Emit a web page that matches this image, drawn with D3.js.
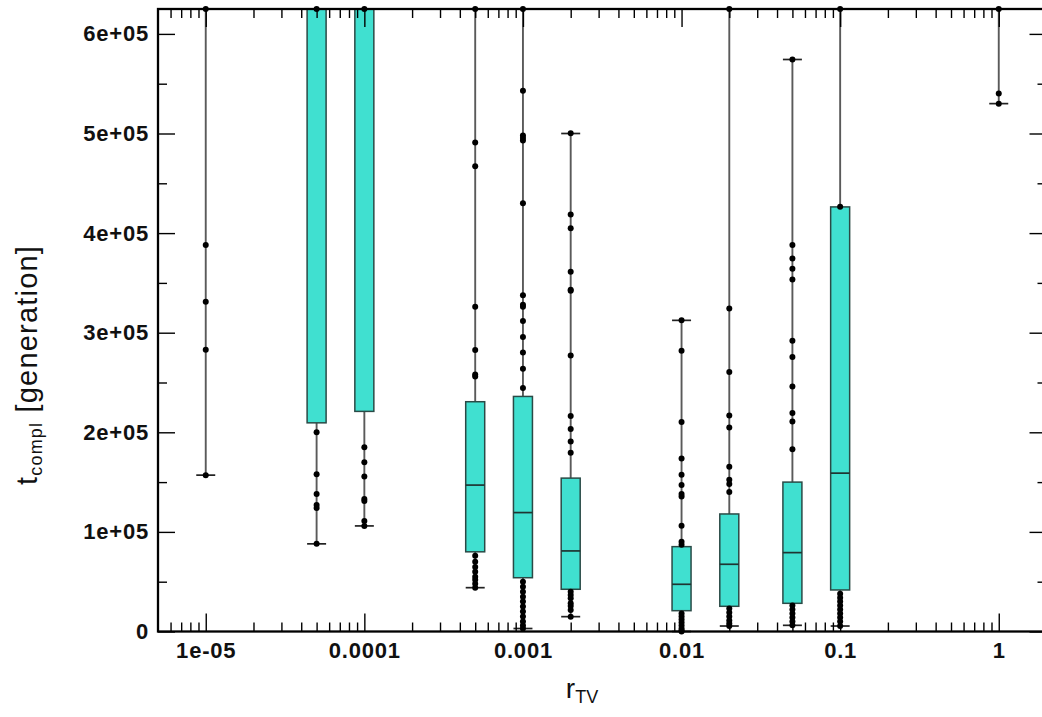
<!DOCTYPE html>
<html>
<meta charset="utf-8">
<style>
  body { margin: 0; background: #fff; }
  text { font-family: "Liberation Sans", Arial, sans-serif; }
  .tick text { font-size: 22px; font-weight: bold; fill: #111; letter-spacing: 0.8px; }
  .tick line { stroke: #000; stroke-width: 1.4px; }
</style>
<body>
<div id="viz"></div>
<script src="https://d3js.org/d3.v7.min.js"></script>
<script>
// r_TV values on the x axis
var rtv     = [1e-5, 5e-5, 1e-4, 5e-4, 1e-3, 2e-3, 1e-2, 2e-2, 5e-2, 1e-1, 1];
var q1      = [625000, 209500, 221000, 80000, 54000, 42400, 20900, 25300, 28300, 41700, 625000];
var median  = [625000, 625000, 625000, 147000, 119400, 80900, 47400, 67500, 79200, 159000, 625000];
var q3      = [625000, 625000, 625000, 230700, 236000, 154000, 85200, 118000, 150000, 426300, 625000];
var whiskLo = [157000, 88000, 106000, 44000, 3000, 14900, 0, 5500, 6200, 5500, 530000];
var whiskHi = [625000, 625000, 625000, 625000, 625000, 500000, 312400, 625000, 574300, 625000, 625000];
// single points drawn along the whiskers
var points = [
  [625000, 388000, 331000, 283000, 157000],
  [625000, 200000, 158000, 138000, 127000, 124000, 88000],
  [625000, 185000, 170000, 155600, 133000, 131000, 111000, 106000],
  [625000, 491000, 467000, 326000, 282600, 258000, 256000, 76000, 70000, 64800, 60000, 55000, 52000, 48000, 44000],
  [625000, 543000, 498000, 495600, 493000, 430000, 337500, 328000, 326000, 311800, 295700, 280200, 263800, 244400,
   50000, 45000, 40000, 35000, 30000, 25000, 20000, 15000, 10000, 6000, 3000],
  [500300, 418600, 404800, 361300, 343200, 342000, 277200, 216300, 203200, 190800, 179400,
   40000, 36700, 33400, 28300, 25600, 21600, 14900],
  [312400, 281900, 210300, 173700, 157300, 147200, 138000, 135500, 106300, 90200, 87000,
   18000, 15000, 12000, 9000, 6000, 3000, 1000, 0],
  [625000, 324400, 260500, 216900, 204800, 165300, 152300, 148000, 140000,
   23000, 19000, 15000, 11000, 8000, 5500],
  [574300, 388000, 374400, 364300, 353300, 292000, 275600, 246000, 219300, 210900, 183100,
   26000, 22000, 18000, 14000, 10000, 6200],
  [625000, 426500, 38000, 34000, 30000, 26000, 22000, 18000, 14000, 10000, 5500],
  [625000, 540200, 529800]
];
var xMajor = [1e-5, 1e-4, 1e-3, 1e-2, 1e-1, 1];
var xMajorLabels = ["1e-05", "0.0001", "0.001", "0.01", "0.1", "1"];
var yMajor = [0, 100000, 200000, 300000, 400000, 500000, 600000];
var yMajorLabels = ["0", "1e+05", "2e+05", "3e+05", "4e+05", "5e+05", "6e+05"];

var W = 1042, H = 717;
var pLeft = 158, pTop = 9, pRight = 1046.5, pBottom = 631.5;
var boxW = 19;

var svg = d3.select("#viz").append("svg")
  .attr("width", W).attr("height", H);

var x = d3.scaleLog().domain([5e-6, 2]).range([pLeft, pRight]);
var y = d3.scaleLinear().domain([0, 625000]).range([pBottom, pTop]);

var xMinor = [];
for (var e = -6; e <= 0; e++) {
  for (var m = 2; m <= 9; m++) {
    var v = m * Math.pow(10, e);
    if (v >= 5e-6 && v <= 2) xMinor.push(v);
  }
}
var yMinor = [50000, 150000, 250000, 350000, 450000, 550000];

var data = rtv.map(function(r, i) {
  return {r: r, q1: q1[i], med: median[i], q3: q3[i], lo: whiskLo[i], hi: whiskHi[i], pts: points[i]};
});

var plot = svg.append("g");

// whiskers
plot.selectAll("line.wl").data(data).enter().append("line")
  .attr("x1", function(d) { return x(d.r); }).attr("x2", function(d) { return x(d.r); })
  .attr("y1", function(d) { return y(d.lo); }).attr("y2", function(d) { return y(d.q1); })
  .attr("stroke", "#5a5a5a").attr("stroke-width", 1.9);
plot.selectAll("line.wh").data(data).enter().append("line")
  .attr("x1", function(d) { return x(d.r); }).attr("x2", function(d) { return x(d.r); })
  .attr("y1", function(d) { return y(d.q3); }).attr("y2", function(d) { return y(d.hi); })
  .attr("stroke", "#5a5a5a").attr("stroke-width", 1.9);
// caps
["lo", "hi"].forEach(function(k) {
  plot.selectAll("line.cap" + k).data(data).enter().append("line")
    .attr("x1", function(d) { return x(d.r) - boxW / 2; })
    .attr("x2", function(d) { return x(d.r) + boxW / 2; })
    .attr("y1", function(d) { return y(d[k]); }).attr("y2", function(d) { return y(d[k]); })
    .attr("stroke", "#222").attr("stroke-width", 1.7);
});

// boxes
var boxes = data.filter(function(d) { return d.q3 > d.q1; });
plot.selectAll("rect.box").data(boxes).enter().append("rect")
  .attr("x", function(d) { return x(d.r) - boxW / 2; })
  .attr("width", boxW)
  .attr("y", function(d) { return y(d.q3); })
  .attr("height", function(d) { return y(d.q1) - y(d.q3); })
  .attr("fill", "#40E0D0").attr("stroke", "#2a4a46").attr("stroke-width", 1.5);
plot.selectAll("line.med").data(boxes).enter().append("line")
  .attr("x1", function(d) { return x(d.r) - boxW / 2; })
  .attr("x2", function(d) { return x(d.r) + boxW / 2; })
  .attr("y1", function(d) { return y(d.med); }).attr("y2", function(d) { return y(d.med); })
  .attr("stroke", "#1f3532").attr("stroke-width", 1.7);

// dots
data.forEach(function(d) {
  plot.selectAll(null).data(d.pts).enter().append("circle")
    .attr("cx", x(d.r)).attr("cy", function(v) { return y(v); })
    .attr("r", 3).attr("fill", "#000");
});

// axes, ticks pointing inward
function styleAxis(g) { g.select(".domain").remove(); }

svg.append("g").attr("transform", "translate(0," + pBottom + ")")
  .call(d3.axisBottom(x).tickValues(xMinor).tickSize(-9).tickFormat(""))
  .call(styleAxis);
svg.append("g").attr("transform", "translate(0," + pBottom + ")")
  .call(d3.axisBottom(x).tickValues(xMajor).tickSize(-18).tickPadding(11)
    .tickFormat(function(d, i) { return xMajorLabels[i]; }))
  .call(styleAxis);
svg.append("g").attr("transform", "translate(0," + pTop + ")")
  .call(d3.axisTop(x).tickValues(xMinor).tickSize(-9).tickFormat(""))
  .call(styleAxis);
svg.append("g").attr("transform", "translate(0," + pTop + ")")
  .call(d3.axisTop(x).tickValues(xMajor).tickSize(-18).tickFormat(""))
  .call(styleAxis);

svg.append("g").attr("transform", "translate(" + pLeft + ",0)")
  .call(d3.axisLeft(y).tickValues(yMinor).tickSize(-9).tickFormat(""))
  .call(styleAxis);
svg.append("g").attr("transform", "translate(" + pLeft + ",0)")
  .call(d3.axisLeft(y).tickValues(yMajor).tickSize(-17).tickPadding(9)
    .tickFormat(function(d, i) { return yMajorLabels[i]; }))
  .call(styleAxis);
svg.append("g").attr("transform", "translate(" + pRight + ",0)")
  .call(d3.axisRight(y).tickValues(yMinor).tickSize(-9).tickFormat(""))
  .call(styleAxis);
svg.append("g").attr("transform", "translate(" + pRight + ",0)")
  .call(d3.axisRight(y).tickValues(yMajor).tickSize(-17).tickFormat(""))
  .call(styleAxis);

// frame
svg.append("rect")
  .attr("x", pLeft).attr("y", pTop)
  .attr("width", pRight - pLeft).attr("height", pBottom - pTop)
  .attr("fill", "none").attr("stroke", "#000").attr("stroke-width", 2.3);

// axis titles
var xt = svg.append("text").attr("x", 582).attr("y", 698)
  .attr("text-anchor", "middle").style("font-size", "28px").attr("fill", "#111");
xt.append("tspan").text("r");
xt.append("tspan").attr("dy", 5).style("font-size", "18px").text("TV");

var yt = svg.append("text")
  .attr("transform", "translate(37," + 365 + ") rotate(-90)")
  .attr("text-anchor", "middle").style("font-size", "29px")
  .style("letter-spacing", "1.2px").attr("fill", "#111");
yt.append("tspan").text("t");
yt.append("tspan").attr("dy", 5).style("font-size", "18px").text("compl");
yt.append("tspan").attr("dy", -5).text(" [generation]");
</script>
</body>
</html>
